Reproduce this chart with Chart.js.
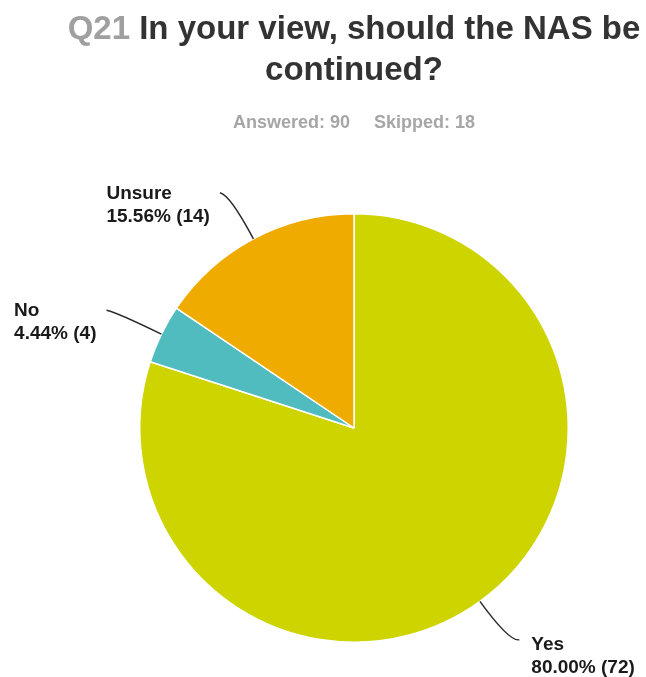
<!DOCTYPE html>
<html>
<head>
<meta charset="utf-8">
<script src="https://cdn.jsdelivr.net/npm/chart.js@4"></script>
<style>
  html, body { margin: 0; padding: 0; background: #fff; }
  #wrap { width: 646px; height: 677px; }
</style>
</head>
<body>
<div id="wrap"><canvas id="myChart" width="646" height="677"></canvas></div>
<script>
// values
const categories = ['Yes', 'No', 'Unsure'];
const counts = [72, 4, 14];
const percentLabels = ['80.00%', '4.44%', '15.56%'];
const colors = ['#cdd400', '#50bcbf', '#efab00'];

const questionNo = 'Q21';
const titleLines = ['In your view, should the NAS be', 'continued?'];
const answeredText = 'Answered: 90';
const skippedText = 'Skipped: 18';

const FONT = '"Liberation Sans", Arial, sans-serif';

// title + subtitle drawn straight on the canvas
const headerPlugin = {
    id: 'header',
    afterDraw(chart) {
        const ctx = chart.ctx;
        const cx = 354;
        ctx.save();
        ctx.textBaseline = 'alphabetic';
        ctx.font = 'bold 33px ' + FONT;
        const qw = ctx.measureText(questionNo + ' ').width;
        const rw = ctx.measureText(titleLines[0]).width;
        let x = cx - (qw + rw) / 2;
        ctx.textAlign = 'left';
        ctx.fillStyle = '#a0a0a0';
        ctx.fillText(questionNo + ' ', x, 39);
        ctx.fillStyle = '#333333';
        ctx.fillText(titleLines[0], x + qw, 39);
        ctx.textAlign = 'center';
        ctx.fillText(titleLines[1], cx, 80);

        ctx.font = 'bold 18px ' + FONT;
        ctx.fillStyle = '#a6a6a6';
        const aw = ctx.measureText(answeredText).width;
        const sw = ctx.measureText(skippedText).width;
        const gap = 24;
        x = cx - (aw + gap + sw) / 2;
        ctx.textAlign = 'left';
        ctx.fillText(answeredText, x, 128);
        ctx.fillText(skippedText, x + aw + gap, 128);
        ctx.restore();
    }
};

// slice labels with curved leader lines
const leaderPlugin = {
    id: 'leaders',
    afterDatasetsDraw(chart) {
        const ctx = chart.ctx;
        const meta = chart.getDatasetMeta(0);
        ctx.save();
        meta.data.forEach((arc, i) => {
            const mid = (arc.startAngle + arc.endAngle) / 2;
            const cos = Math.cos(mid), sin = Math.sin(mid);
            const r = arc.outerRadius;
            const ax = arc.x + cos * r, ay = arc.y + sin * r;
            const bx = arc.x + cos * (r + 50), by = arc.y + sin * (r + 50);
            const dir = cos >= 0 ? 1 : -1;
            const ex = bx + dir * 10, ey = by - 2;
            ctx.beginPath();
            ctx.moveTo(ax, ay);
            ctx.quadraticCurveTo(bx, by, ex, ey);
            ctx.strokeStyle = '#2a2a2a';
            ctx.lineWidth = 1.5;
            ctx.stroke();

            ctx.font = 'bold 19px ' + FONT;
            ctx.fillStyle = '#1a1a1a';
            ctx.textAlign = 'left';
            ctx.textBaseline = 'alphabetic';
            const l1 = categories[i];
            const l2 = percentLabels[i] + ' (' + counts[i] + ')';
            const w = Math.max(ctx.measureText(l1).width, ctx.measureText(l2).width);
            const tx = dir > 0 ? ex + 12 : ex - 10 - w;
            const ty = dir > 0 ? ey + 10 : ey + 6;
            ctx.fillText(l1, tx, ty);
            ctx.fillText(l2, tx, ty + 23);
        });
        ctx.restore();
    }
};

const ctx = document.getElementById('myChart').getContext('2d');
const chart = new Chart(ctx, {
    type: 'pie',
    data: {
        labels: categories,
        datasets: [{
            data: counts,
            backgroundColor: colors,
            borderColor: '#ffffff',
            borderWidth: 1.5
        }]
    },
    options: {
        responsive: false,
        animation: false,
        layout: { padding: { top: 213, bottom: 34, left: 139, right: 77 } },
        plugins: {
            legend: { display: false },
            tooltip: { enabled: false }
        }
    },
    plugins: [headerPlugin, leaderPlugin]
});
</script>
</body>
</html>
